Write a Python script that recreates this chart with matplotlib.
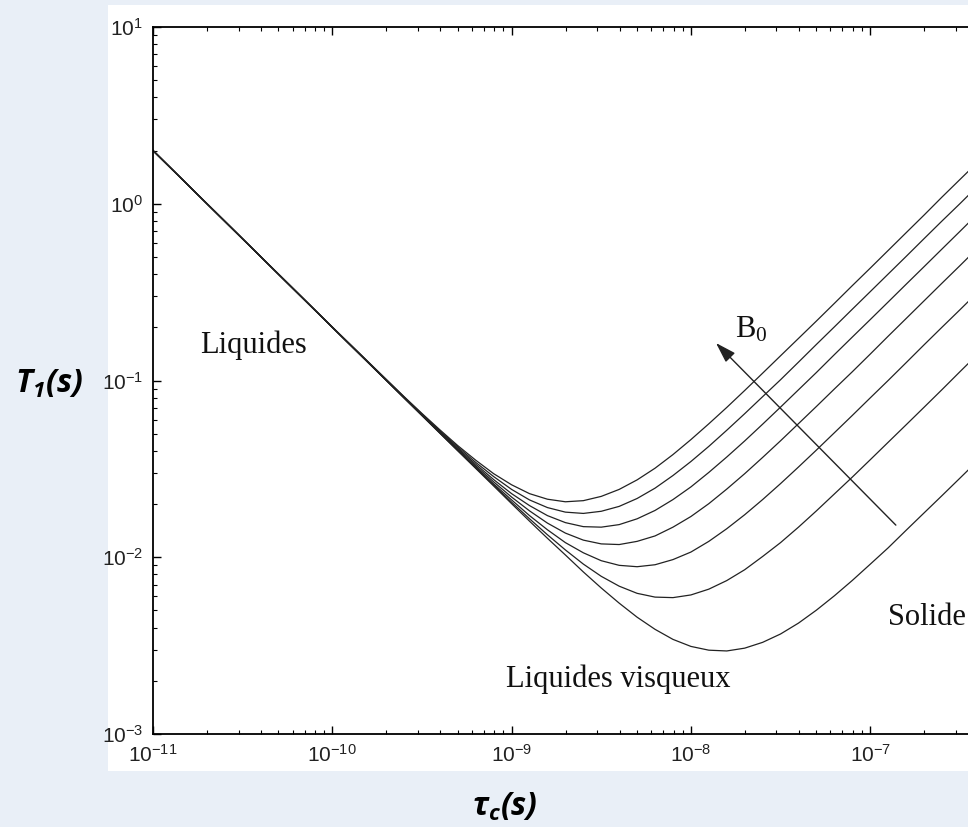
import numpy as np
import matplotlib
matplotlib.use("Agg")
from matplotlib import pyplot as plt
from matplotlib.patches import Rectangle

# correlation time, log10(tau_c / s)
tau_exp = [-11.0, -10.0, -9.6, -9.5, -9.4, -9.3, -9.2, -9.1, -9.0, -8.9, -8.8,
           -8.7, -8.6, -8.5, -8.4, -8.3, -8.2, -8.1, -8.0, -7.9, -7.8, -7.7,
           -7.6, -7.5, -7.4, -7.3, -7.2, -7.1, -7.0, -6.9, -6.8, -6.7, -6.6,
           -6.5, -6.4, -6.3, -6.2, -6.1, -6.0]

# T1 (s), lowest field first
t1_b1 = [2, 0.2, 0.0797, 0.0633, 0.0503, 0.04, 0.0318, 0.0253, 0.0201, 0.016,
         0.0128, 0.0103, 0.00826, 0.0067, 0.0055, 0.00458, 0.00391, 0.00343,
         0.00313, 0.00298, 0.00295, 0.00306, 0.0033, 0.00368, 0.00424, 0.00502,
         0.00605, 0.00739, 0.00913, 0.0113, 0.0142, 0.0178, 0.0223, 0.028,
         0.0352, 0.0443, 0.0557, 0.0701, 0.0882]
t1_b2 = [2, 0.2, 0.0797, 0.0634, 0.0504, 0.0401, 0.032, 0.0256, 0.0205, 0.0165,
         0.0134, 0.011, 0.00915, 0.0078, 0.00686, 0.00625, 0.00595, 0.00591,
         0.00612, 0.0066, 0.00738, 0.0085, 0.0101, 0.0121, 0.0148, 0.0183,
         0.0228, 0.0284, 0.0356, 0.0447, 0.0561, 0.0705, 0.0887, 0.112, 0.141,
         0.177, 0.223, 0.28, 0.353]
t1_b3 = [2, 0.2, 0.0799, 0.0636, 0.0507, 0.0404, 0.0324, 0.026, 0.0211, 0.0172,
         0.0143, 0.0121, 0.0106, 0.00956, 0.009, 0.00884, 0.00907, 0.0097,
         0.0107, 0.0123, 0.0145, 0.0174, 0.0212, 0.0261, 0.0324, 0.0404,
         0.0506, 0.0634, 0.0797, 0.1, 0.126, 0.159, 0.2, 0.251, 0.316, 0.398,
         0.501, 0.631, 0.794]
t1_b4 = [2, 0.2, 0.0801, 0.0639, 0.051, 0.0409, 0.0329, 0.0267, 0.0219, 0.0183,
         0.0156, 0.0137, 0.0125, 0.0119, 0.0118, 0.0123, 0.0132, 0.0148, 0.017,
         0.0201, 0.0243, 0.0297, 0.0367, 0.0456, 0.057, 0.0713, 0.0895, 0.112,
         0.141, 0.178, 0.224, 0.282, 0.355, 0.446, 0.562, 0.707, 0.89, 1.12,
         1.41]
t1_b5 = [2, 0.2, 0.0804, 0.0642, 0.0514, 0.0414, 0.0336, 0.0275, 0.0229, 0.0196,
         0.0172, 0.0157, 0.0149, 0.0148, 0.0153, 0.0165, 0.0184, 0.0212, 0.025,
         0.0302, 0.0369, 0.0455, 0.0566, 0.0707, 0.0886, 0.111, 0.14, 0.176,
         0.221, 0.278, 0.35, 0.44, 0.554, 0.697, 0.878, 1.11, 1.39, 1.75, 2.21]
t1_b6 = [2, 0.2, 0.0807, 0.0646, 0.0519, 0.0421, 0.0344, 0.0286, 0.0242, 0.0211,
         0.0191, 0.018, 0.0177, 0.0182, 0.0194, 0.0215, 0.0246, 0.029, 0.0348,
         0.0424, 0.0523, 0.0649, 0.081, 0.101, 0.127, 0.16, 0.201, 0.253, 0.318,
         0.4, 0.503, 0.634, 0.798, 1, 1.26, 1.59, 2, 2.52, 3.18]
t1_b7 = [2, 0.201, 0.0811, 0.0651, 0.0526, 0.0428, 0.0354, 0.0297, 0.0257,
         0.0229, 0.0213, 0.0206, 0.0209, 0.0221, 0.0242, 0.0274, 0.0319, 0.0381,
         0.0463, 0.0569, 0.0704, 0.0878, 0.11, 0.138, 0.173, 0.217, 0.273,
         0.344, 0.432, 0.544, 0.685, 0.862, 1.09, 1.37, 1.72, 2.17, 2.73, 3.43,
         4.32]

x_major = [1e-11, 1e-10, 1e-9, 1e-8, 1e-7]

plt.rcParams['font.family'] = ['Liberation Sans', 'DejaVu Sans']
plt.rcParams['mathtext.default'] = 'regular'
plt.rcParams['axes.unicode_minus'] = False

fig = plt.figure(figsize=(9.68, 8.27), dpi=100)
fig.patch.set_facecolor('#e9eff7')
# white panel behind the plot (runs off the right edge like the source)
fig.patches.append(Rectangle((108/968, 56/827), 1, 766/827, transform=fig.transFigure,
                             facecolor='white', edgecolor='none', zorder=-10))
ax = fig.add_axes([153/968, 93/827, 896.5/968, 707/827])

tau = 10 ** np.array(tau_exp)
for t1 in [t1_b1, t1_b2, t1_b3, t1_b4, t1_b5, t1_b6, t1_b7]:
    ax.plot(tau, t1, color='#222222', lw=0.9)

ax.set_xscale('log')
ax.set_yscale('log')
ax.set_xlim(1e-11, 1e-6)
ax.set_ylim(1e-3, 1e1)
ax.set_xticks(x_major)
for s in ax.spines.values():
    s.set_linewidth(1.3)
ax.tick_params(which='both', direction='in', top=True, right=True,
               labelsize=15, labelcolor='#222222', pad=7)
ax.tick_params(which='major', length=6, width=1)
ax.tick_params(which='minor', length=3, width=0.8)

serif = dict(family=['Liberation Serif', 'DejaVu Serif'], fontsize=22, color='#111111')
ax.text(1.83e-11, 0.143, 'Liquides', ha='left', va='baseline', **serif)
ax.text(3.92e-9, 1.85e-3, 'Liquides visqueux', ha='center', va='baseline', **serif)
ax.text(1.26e-7, 4.14e-3, 'Solide', ha='left', va='baseline', **serif)
ax.text(1.76e-8, 0.176, 'B$_0$', ha='left', va='baseline', **serif)
ax.annotate('', xy=(1.38e-8, 0.163), xytext=(1.39e-7, 0.0152),
            arrowprops=dict(arrowstyle='-|>,head_length=0.7,head_width=0.22',
                            color='#222222', lw=1, mutation_scale=18,
                            shrinkA=0, shrinkB=0))

lab = dict(family=['Open Sans', 'DejaVu Sans'], fontsize=23, fontweight='bold',
           fontstyle='italic', color='black')
fig.text(49/968, 1 - 384/827, 'T$_1$(s)', ha='center', va='center', **lab)
fig.text(505/968, 1 - 807/827, 'τ$_c$(s)', ha='center', va='center', **lab)

fig.savefig('out.png', dpi=100, facecolor=fig.get_facecolor())
